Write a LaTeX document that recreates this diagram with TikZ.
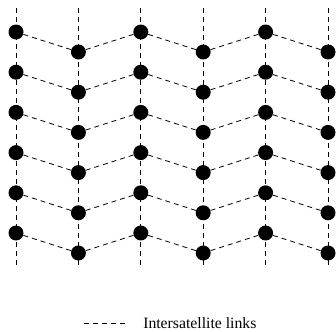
\documentclass[tikz,border=0pt]{standalone}
\usepackage{fontspec}
\setmainfont{Liberation Serif}
\usetikzlibrary{positioning}

\begin{document}
\begin{tikzpicture}[
    x=0.75pt, y=-0.75pt,
    % satellites and links
    sat/.style={circle, fill=black, inner sep=0pt, minimum size=11.25pt},
    link/.style={line width=0.6pt, dash pattern=on 3.75pt off 3pt}
]
    \useasboundingbox (0,0) rectangle (336,332);

    % orbit planes: top and bottom ends
    \foreach \c in {0,...,5} {
        \coordinate (top-\c) at ({16+62.4*\c}, 8);
        \coordinate (bot-\c) at ({16+62.4*\c}, 268);
        \draw[link] (top-\c) -- (bot-\c);
    }

    % satellites, odd planes shifted down by half a step
    \foreach \c in {0,...,5} {
        \foreach \r in {0,...,5} {
            \pgfmathsetmacro{\yy}{32+40.2*\r+20*mod(\c,2)}
            \node[sat] (s-\c-\r) at ({16+62.4*\c}, \yy) {};
        }
    }

    % intersatellite links between neighbouring planes
    \foreach \c [evaluate=\c as \n using int(\c+1)] in {0,...,4} {
        \foreach \r in {0,...,5} {
            \draw[link] (s-\c-\r) -- (s-\n-\r);
        }
    }

    % legend
    \coordinate (leg-a) at (84, 323);
    \coordinate (leg-b) at (126, 323);
    \draw[link] (leg-a) -- (leg-b);
    \node[anchor=base west, inner sep=0pt, font=\fontsize{11.8}{14}\selectfont] (leg-txt) at (143, 328) {Intersatellite links};
\end{tikzpicture}
\end{document}
